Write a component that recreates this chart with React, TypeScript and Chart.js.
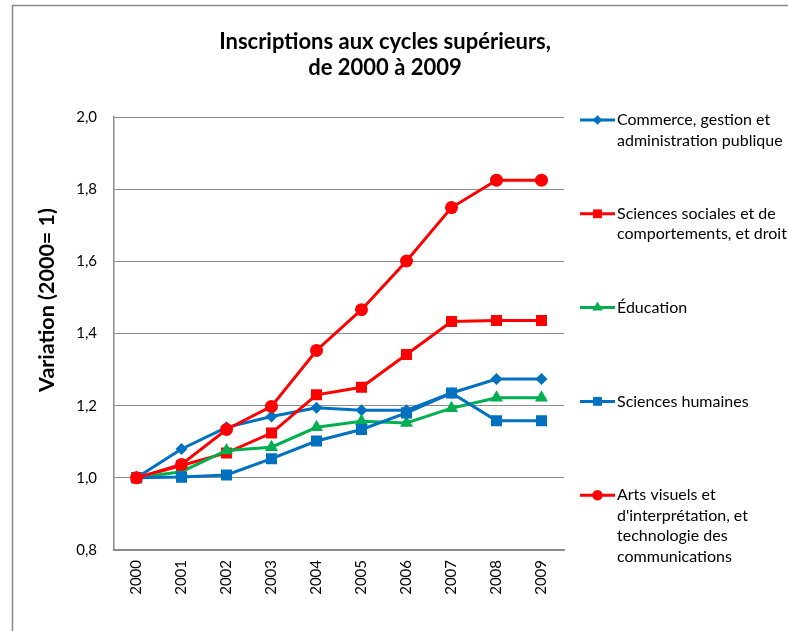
import React, { useEffect, useRef } from "react";
import { Chart, registerables } from "chart.js";

Chart.register(...registerables);

// ---- data ----
const years = ["2000", "2001", "2002", "2003", "2004", "2005", "2006", "2007", "2008", "2009"];
const commerce = [1.0, 1.08, 1.14, 1.17, 1.194, 1.187, 1.187, 1.235, 1.274, 1.274];
const sociales = [1.0, 1.034, 1.069, 1.124, 1.23, 1.251, 1.342, 1.433, 1.436, 1.436];
const education = [1.0, 1.017, 1.076, 1.085, 1.14, 1.157, 1.152, 1.193, 1.222, 1.222];
const humaines = [1.0, 1.002, 1.008, 1.053, 1.102, 1.134, 1.18, 1.235, 1.158, 1.158];
const arts = [1.0, 1.037, 1.134, 1.198, 1.353, 1.466, 1.601, 1.749, 1.825, 1.825];

const yMin = 0.8;
const yMax = 2.0;
const yStep = 0.2;

const titleLines = ["Inscriptions aux cycles supérieurs,", "de 2000 à 2009"];
const yTitle = "Variation (2000= 1)";

const legendCommerce = ["Commerce, gestion et", "administration publique"];
const legendSociales = ["Sciences sociales et de", "comportements, et droit"];
const legendEducation = ["Éducation"];
const legendHumaines = ["Sciences humaines"];
const legendArts = ["Arts visuels et", "d'interprétation, et", "technologie des", "communications"];

const BLUE = "#0070C0";
const RED = "#FF0000";
const GREEN = "#00B050";
const FONT = "Lato";

function drawMarker(ctx: CanvasRenderingContext2D, style: string, x: number, y: number, r: number, color: string) {
  ctx.save();
  ctx.fillStyle = color;
  ctx.beginPath();
  if (style === "circle") {
    ctx.arc(x, y, r, 0, Math.PI * 2);
  } else if (style === "rect") {
    const s = Math.SQRT1_2 * r;
    ctx.rect(x - s, y - s, 2 * s, 2 * s);
  } else if (style === "rectRot") {
    ctx.moveTo(x, y - r);
    ctx.lineTo(x + r, y);
    ctx.lineTo(x, y + r);
    ctx.lineTo(x - r, y);
    ctx.closePath();
  } else if (style === "triangle") {
    const e = (3 * r) / Math.sqrt(3);
    const h = (e * Math.sqrt(3)) / 2;
    ctx.moveTo(x - e / 2, y + h / 3);
    ctx.lineTo(x + e / 2, y + h / 3);
    ctx.lineTo(x, y - (2 * h) / 3);
    ctx.closePath();
  }
  ctx.fill();
  ctx.restore();
}

const decorPlugin = {
  id: "decor",
  beforeDraw(chart: any) {
    const ctx = chart.ctx as CanvasRenderingContext2D;
    ctx.save();
    ctx.fillStyle = "#ffffff";
    ctx.fillRect(0, 0, chart.width, chart.height);
    ctx.strokeStyle = "#8a8a8a";
    ctx.lineWidth = 1.5;
    ctx.beginPath();
    ctx.moveTo(12.5, chart.height);
    ctx.lineTo(12.5, 5.5);
    ctx.lineTo(chart.width, 5.5);
    ctx.stroke();
    ctx.restore();
  },
  afterDraw(chart: any) {
    const ctx = chart.ctx as CanvasRenderingContext2D;
    ctx.save();
    // title
    ctx.fillStyle = "#000";
    ctx.font = `bold 22px ${FONT}`;
    ctx.textAlign = "center";
    ctx.textBaseline = "middle";
    titleLines.forEach((t, i) => ctx.fillText(t, 385, 42 + i * 26));
    // y title
    ctx.save();
    ctx.translate(47, 300);
    ctx.rotate(-Math.PI / 2);
    ctx.font = `bold 21.5px ${FONT}`;
    ctx.fillText(yTitle, 0, 0);
    ctx.restore();
    // legend
    ctx.textAlign = "left";
    ctx.font = `16px ${FONT}`;
    chart.data.datasets.forEach((ds: any, i: number) => {
      const y0 = 120 + i * 93.8;
      ctx.strokeStyle = ds.borderColor;
      ctx.lineWidth = 3;
      ctx.beginPath();
      ctx.moveTo(580, y0);
      ctx.lineTo(615, y0);
      ctx.stroke();
      drawMarker(ctx, ds.pointStyle, 597.5, y0, ds.pointRadius * 0.8, ds.borderColor);
      ctx.fillStyle = "#000";
      (ds.legendLines as string[]).forEach((t, k) => ctx.fillText(t, 617, y0 + k * 20.5));
    });
    ctx.restore();
  },
};

export default function App() {
  const ref = useRef<HTMLCanvasElement>(null);
  useEffect(() => {
    if (!ref.current) return;
    const mk = (label: string[], data: number[], color: string, style: string, r: number, order: number) => ({
      label: label.join(" "),
      legendLines: label,
      data,
      borderColor: color,
      backgroundColor: color,
      borderWidth: 3,
      pointStyle: style,
      pointRadius: r,
      pointBorderWidth: 0,
      pointBackgroundColor: color,
      tension: 0,
      order,
    });
    const chart = new Chart(ref.current, {
      type: "line",
      data: {
        labels: years,
        datasets: [
          mk(legendCommerce, commerce, BLUE, "rectRot", 6, 5),
          mk(legendSociales, sociales, RED, "rect", 7.8, 4),
          mk(legendEducation, education, GREEN, "triangle", 7.5, 3),
          mk(legendHumaines, humaines, BLUE, "rect", 7.8, 2),
          mk(legendArts, arts, RED, "circle", 6.5, 1),
        ] as any,
      },
      options: {
        animation: false,
        responsive: false,
        maintainAspectRatio: false,
        layout: { padding: { left: 0, right: 224, top: 117, bottom: 0 } },
        plugins: { legend: { display: false }, title: { display: false }, tooltip: { enabled: false } },
        scales: {
          x: {
            offset: true,
            grid: { display: false, drawTicks: false },
            border: { color: "#8a8a8a", width: 1.5 },
            ticks: {
              minRotation: 90,
              maxRotation: 90,
              padding: 10,
              color: "#000",
              font: { family: FONT, size: 15 },
            },
            afterFit(s: any) {
              s.height = 81;
            },
          },
          y: {
            min: yMin,
            max: yMax,
            grid: { color: "#8c8c8c", lineWidth: 1, drawTicks: false },
            border: { color: "#8a8a8a", width: 1.5 },
            ticks: {
              stepSize: yStep,
              padding: 17,
              color: "#000",
              font: { family: FONT, size: 15 },
              callback: (v: any) => Number(v).toFixed(1).replace(".", ","),
            },
            afterFit(s: any) {
              s.width = 114;
            },
          },
        },
      },
      plugins: [decorPlugin],
    });
    return () => chart.destroy();
  }, []);
  return (
    <div style={{ position: "fixed", left: 0, top: 0, width: 788, height: 631, background: "#fff" }}>
      <canvas ref={ref} width={788} height={631} style={{ width: 788, height: 631, display: "block" }} />
    </div>
  );
}
